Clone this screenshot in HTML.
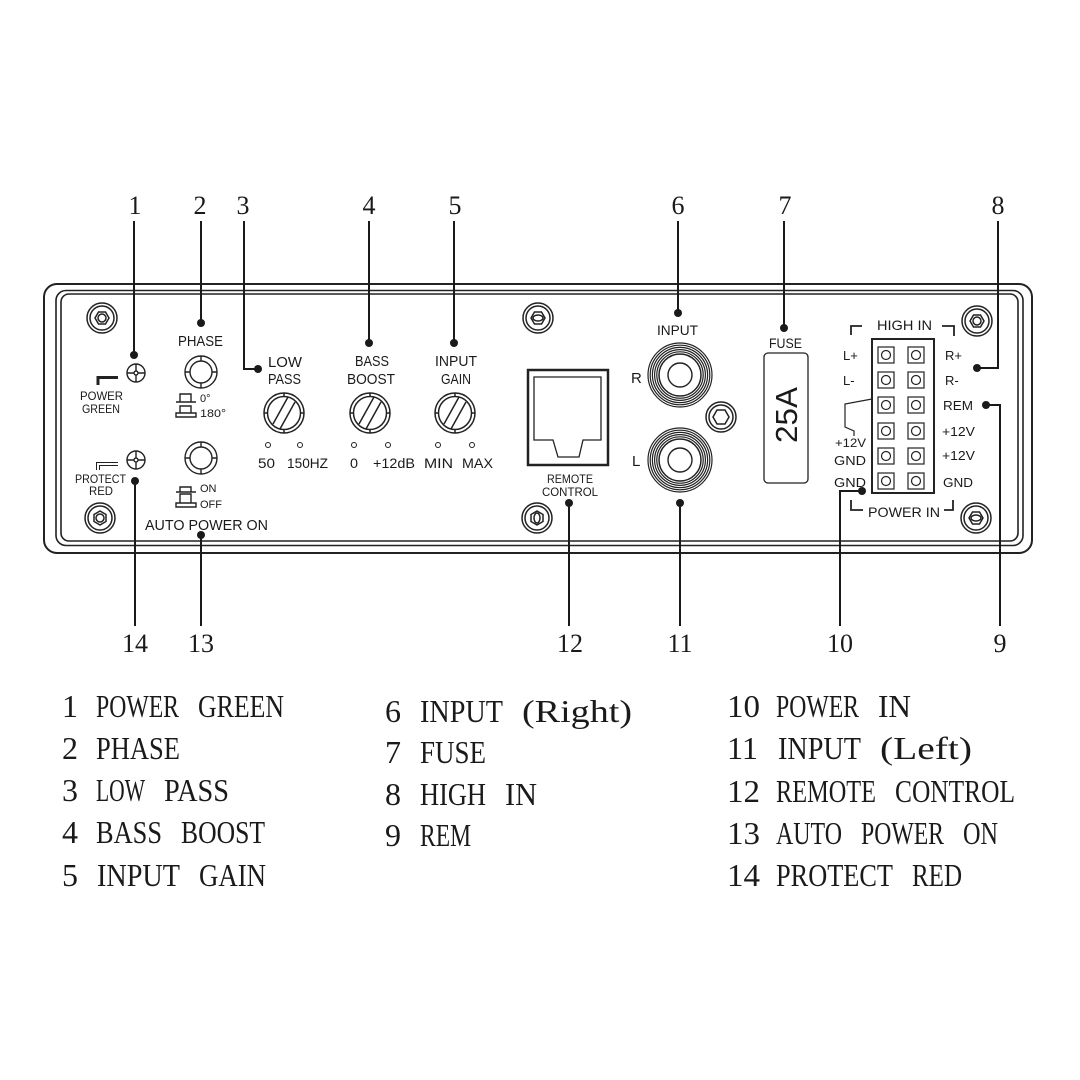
<!DOCTYPE html>
<html><head><meta charset="utf-8"><style>
html,body{margin:0;padding:0;background:#fff;}
svg{display:block;}
.s{font-family:"Liberation Sans",sans-serif;fill:#1a1a1a;}
.n{font-family:"Liberation Serif",serif;fill:#1a1a1a;font-size:26px;text-anchor:middle;}
.lg{font-family:"Liberation Serif",serif;fill:#1a1a1a;font-size:32px;}
</style></head><body>
<svg width="1080" height="1080" viewBox="0 0 1080 1080" xmlns="http://www.w3.org/2000/svg">
<rect width="1080" height="1080" fill="#fff"/>
<!-- frame -->
<rect x="44" y="284" width="988" height="269" rx="13" fill="none" stroke="#222" stroke-width="2"/>
<rect x="56" y="290.5" width="967" height="255" rx="10" fill="none" stroke="#222" stroke-width="1.6"/>
<rect x="61" y="294" width="957" height="247" rx="8" fill="none" stroke="#222" stroke-width="1.6"/>

<!-- screws -->
<g fill="none" stroke="#222" stroke-width="1.5">
 <g transform="translate(102,318)"><circle r="15"/><circle r="12"/><polygon points="7,0 3.5,6 -3.5,6 -7,0 -3.5,-6 3.5,-6"/><circle r="4"/></g>
 <g transform="translate(100,518)"><circle r="15"/><circle r="12"/><polygon points="0,7 6,3.5 6,-3.5 0,-7 -6,-3.5 -6,3.5"/><circle r="4"/></g>
 <g transform="translate(538,318)"><circle r="15"/><circle r="12"/><polygon points="7,0 3.5,6 -3.5,6 -7,0 -3.5,-6 3.5,-6"/><ellipse rx="5" ry="3"/></g>
 <g transform="translate(537,518)"><circle r="15"/><circle r="12"/><polygon points="0,7 6,3.5 6,-3.5 0,-7 -6,-3.5 -6,3.5"/><ellipse rx="3" ry="5"/></g>
 <g transform="translate(977,321)"><circle r="15"/><circle r="12"/><polygon points="7,0 3.5,6 -3.5,6 -7,0 -3.5,-6 3.5,-6"/><circle r="4"/></g>
 <g transform="translate(976,518)"><circle r="15"/><circle r="12"/><polygon points="7,0 3.5,6 -3.5,6 -7,0 -3.5,-6 3.5,-6"/><ellipse rx="5" ry="3"/></g>
 <g transform="translate(721,417)"><circle r="15"/><circle r="12"/><polygon points="8,0 4,7 -4,7 -8,0 -4,-7 4,-7"/></g>
</g>

<!-- power green / protect red -->
<g fill="none" stroke="#222" stroke-width="1.4">
 <circle cx="136" cy="373" r="9"/><circle cx="136" cy="373" r="2"/>
 <path d="M127,373h7M138,373h7M136,364v7M136,375v7"/>
 <circle cx="136" cy="460" r="9"/><circle cx="136" cy="460" r="2"/>
 <path d="M127,460h7M138,460h7M136,451v7M136,462v7"/>
 <path d="M96.5,470V462.5H118M99.5,470V465.5H118" stroke-width="1"/>
</g>
<path d="M98,385V377.5H118" fill="none" stroke="#222" stroke-width="3"/>
<text class="s" x="80" y="400" font-size="12" textLength="43" lengthAdjust="spacingAndGlyphs">POWER</text>
<text class="s" x="82" y="413" font-size="12" textLength="38" lengthAdjust="spacingAndGlyphs">GREEN</text>
<text class="s" x="75" y="483" font-size="12" textLength="51" lengthAdjust="spacingAndGlyphs">PROTECT</text>
<text class="s" x="89" y="495" font-size="12" textLength="24" lengthAdjust="spacingAndGlyphs">RED</text>

<!-- phase & auto power knobs -->
<g fill="none" stroke="#222" stroke-width="1.4">
 <g transform="translate(201,372)"><circle r="16"/><circle r="11"/><path d="M0,-16v5M0,16v-5M-16,0h5M16,0h-5"/></g>
 <g transform="translate(201,458)"><circle r="16"/><circle r="11"/><path d="M0,-16v5M0,16v-5M-16,0h5M16,0h-5"/></g>
 <!-- switch icons -->
 <path d="M176,402H196M180,402V394H191V402"/>
 <path d="M176,417H196V413H176ZM180,413V406H191V413"/>
 <path d="M176,492H196M180,492V487H191V492"/>
 <path d="M176,507H196V503H176ZM180,503V494H191V503"/>
</g>
<text class="s" x="178" y="346" font-size="15" textLength="45" lengthAdjust="spacingAndGlyphs">PHASE</text>
<text class="s" x="200" y="402" font-size="11">0°</text>
<text class="s" x="200" y="417" font-size="11" textLength="26" lengthAdjust="spacingAndGlyphs">180°</text>
<text class="s" x="200" y="492" font-size="11">ON</text>
<text class="s" x="200" y="508" font-size="11">OFF</text>
<text class="s" x="145" y="530" font-size="15" textLength="123" lengthAdjust="spacingAndGlyphs">AUTO POWER ON</text>

<!-- rotary knobs -->
<g fill="none" stroke="#222" stroke-width="1.5">
 <g transform="translate(284,413)"><circle r="20"/><circle r="16.5"/><path d="M0,-20v3.5M0,20v-3.5M-20,0h3.5M20,0h-3.5"/><path d="M4,-16L-11,11M11,-11L-4,16"/></g>
 <g transform="translate(370,413)"><circle r="20"/><circle r="16.5"/><path d="M0,-20v3.5M0,20v-3.5M-20,0h3.5M20,0h-3.5"/><path d="M4,-16L-11,11M11,-11L-4,16"/></g>
 <g transform="translate(455,413)"><circle r="20"/><circle r="16.5"/><path d="M0,-20v3.5M0,20v-3.5M-20,0h3.5M20,0h-3.5"/><path d="M4,-16L-11,11M11,-11L-4,16"/></g>
 <circle cx="268" cy="445" r="2.5" stroke-width="1"/><circle cx="300" cy="445" r="2.5" stroke-width="1"/>
 <circle cx="354" cy="445" r="2.5" stroke-width="1"/><circle cx="388" cy="445" r="2.5" stroke-width="1"/>
 <circle cx="438" cy="445" r="2.5" stroke-width="1"/><circle cx="472" cy="445" r="2.5" stroke-width="1"/>
</g>
<text class="s" x="268" y="367" font-size="15" textLength="34" lengthAdjust="spacingAndGlyphs">LOW</text>
<text class="s" x="268" y="384" font-size="15" textLength="33" lengthAdjust="spacingAndGlyphs">PASS</text>
<text class="s" x="355" y="366" font-size="15" textLength="34" lengthAdjust="spacingAndGlyphs">BASS</text>
<text class="s" x="347" y="384" font-size="15" textLength="48" lengthAdjust="spacingAndGlyphs">BOOST</text>
<text class="s" x="435" y="366" font-size="15" textLength="42" lengthAdjust="spacingAndGlyphs">INPUT</text>
<text class="s" x="441" y="384" font-size="15" textLength="30" lengthAdjust="spacingAndGlyphs">GAIN</text>
<text class="s" x="258" y="468" font-size="14" textLength="17" lengthAdjust="spacingAndGlyphs">50</text>
<text class="s" x="287" y="468" font-size="14" textLength="41" lengthAdjust="spacingAndGlyphs">150HZ</text>
<text class="s" x="350" y="468" font-size="14" textLength="8" lengthAdjust="spacingAndGlyphs">0</text>
<text class="s" x="373" y="468" font-size="14" textLength="42" lengthAdjust="spacingAndGlyphs">+12dB</text>
<text class="s" x="424" y="468" font-size="14" textLength="29" lengthAdjust="spacingAndGlyphs">MIN</text>
<text class="s" x="462" y="468" font-size="14" textLength="31" lengthAdjust="spacingAndGlyphs">MAX</text>

<!-- remote control -->
<rect x="528" y="370" width="80" height="95" fill="none" stroke="#222" stroke-width="2.5"/>
<path d="M534,377H601V440H583L579,457H558L553,440H534Z" fill="none" stroke="#222" stroke-width="1.3"/>
<text class="s" x="547" y="483" font-size="11.5" textLength="46" lengthAdjust="spacingAndGlyphs">REMOTE</text>
<text class="s" x="542" y="496" font-size="11.5" textLength="56" lengthAdjust="spacingAndGlyphs">CONTROL</text>

<!-- RCA -->
<g fill="none" stroke="#222" stroke-width="1.2">
 <g transform="translate(680,375)"><circle r="32"/><circle r="29.8"/><circle r="27.6"/><circle r="25.4"/><circle r="23.2"/><circle r="21" stroke-width="1.5"/><circle r="12" stroke-width="1.4"/></g>
 <g transform="translate(680,460)"><circle r="32"/><circle r="29.8"/><circle r="27.6"/><circle r="25.4"/><circle r="23.2"/><circle r="21" stroke-width="1.5"/><circle r="12" stroke-width="1.4"/></g>
</g>
<text class="s" x="657" y="335" font-size="14" textLength="41" lengthAdjust="spacingAndGlyphs">INPUT</text>
<text class="s" x="631" y="383" font-size="15">R</text>
<text class="s" x="632" y="466" font-size="15">L</text>

<!-- fuse -->
<rect x="764" y="353" width="44" height="130" rx="4" fill="none" stroke="#222" stroke-width="1.3"/>
<text class="s" x="769" y="348" font-size="14" textLength="33" lengthAdjust="spacingAndGlyphs">FUSE</text>
<text class="s" transform="translate(797,415) rotate(-90)" font-size="31" text-anchor="middle" textLength="56" lengthAdjust="spacingAndGlyphs">25A</text>

<!-- connector -->
<rect x="872" y="339" width="62" height="154" fill="none" stroke="#222" stroke-width="2"/>
<g fill="none" stroke="#222" stroke-width="1.2">
 <g id="pr"><rect x="878" y="347" width="16" height="16"/><circle cx="886" cy="355" r="4.5"/><rect x="908" y="347" width="16" height="16"/><circle cx="916" cy="355" r="4.5"/></g>
 <use href="#pr" y="25"/><use href="#pr" y="50"/><use href="#pr" y="76"/><use href="#pr" y="101"/><use href="#pr" y="126"/>
 <path d="M872,399L845,404V427L854,431V436"/>
 <path d="M851,335V326H862M942,326H954V336" stroke-width="1.8"/>
 <path d="M851,500V510H863M944,510H953V500" stroke-width="1.8"/>
</g>
<text class="s" x="877" y="330" font-size="14" textLength="55" lengthAdjust="spacingAndGlyphs">HIGH IN</text>
<text class="s" x="868" y="517" font-size="14" textLength="72" lengthAdjust="spacingAndGlyphs">POWER IN</text>
<text class="s" x="843" y="360" font-size="13">L+</text>
<text class="s" x="843" y="385" font-size="13">L-</text>
<text class="s" x="945" y="360" font-size="13">R+</text>
<text class="s" x="945" y="385" font-size="13">R-</text>
<text class="s" x="943" y="410" font-size="13" textLength="30" lengthAdjust="spacingAndGlyphs">REM</text>
<text class="s" x="942" y="436" font-size="13" textLength="33" lengthAdjust="spacingAndGlyphs">+12V</text>
<text class="s" x="942" y="460" font-size="13" textLength="33" lengthAdjust="spacingAndGlyphs">+12V</text>
<text class="s" x="943" y="487" font-size="13" textLength="30" lengthAdjust="spacingAndGlyphs">GND</text>
<text class="s" x="835" y="447" font-size="12" textLength="31" lengthAdjust="spacingAndGlyphs">+12V</text>
<text class="s" x="834" y="465" font-size="13" textLength="32" lengthAdjust="spacingAndGlyphs">GND</text>
<text class="s" x="834" y="487" font-size="13" textLength="32" lengthAdjust="spacingAndGlyphs">GND</text>

<!-- leader lines -->
<g fill="none" stroke="#1a1a1a" stroke-width="2">
 <path d="M134,221V355"/><path d="M201,221V323"/><path d="M244,221V369H258"/>
 <path d="M369,221V343"/><path d="M454,221V343"/><path d="M678,221V313"/>
 <path d="M784,221V328"/><path d="M998,221V368H977"/>
 <path d="M986,405H1000V626"/><path d="M862,491H840V626"/><path d="M680,503V626"/>
 <path d="M569,503V626"/><path d="M201,535V626"/><path d="M135,481V626"/>
</g>
<g fill="#1a1a1a">
 <circle cx="134" cy="355" r="4"/><circle cx="201" cy="323" r="4"/><circle cx="258" cy="369" r="4"/>
 <circle cx="369" cy="343" r="4"/><circle cx="454" cy="343" r="4"/><circle cx="678" cy="313" r="4"/>
 <circle cx="784" cy="328" r="4"/><circle cx="977" cy="368" r="4"/><circle cx="986" cy="405" r="4"/>
 <circle cx="862" cy="491" r="4"/><circle cx="680" cy="503" r="4"/><circle cx="569" cy="503" r="4"/>
 <circle cx="201" cy="535" r="4"/><circle cx="135" cy="481" r="4"/>
</g>

<!-- numbers -->
<text class="n" x="135" y="214">1</text><text class="n" x="200" y="214">2</text><text class="n" x="243" y="214">3</text>
<text class="n" x="369" y="214">4</text><text class="n" x="455" y="214">5</text><text class="n" x="678" y="214">6</text>
<text class="n" x="785" y="214">7</text><text class="n" x="998" y="214">8</text>
<text class="n" x="135" y="652">14</text><text class="n" x="201" y="652">13</text><text class="n" x="570" y="652">12</text>
<text class="n" x="680" y="652">11</text><text class="n" x="840" y="652">10</text><text class="n" x="1000" y="652">9</text>

<!-- legend -->
<g class="lg">
 <text x="62" y="717">1</text><text x="96" y="717" textLength="83" lengthAdjust="spacingAndGlyphs">POWER</text><text x="198" y="717" textLength="86" lengthAdjust="spacingAndGlyphs">GREEN</text>
 <text x="62" y="759">2</text><text x="96" y="759" textLength="84" lengthAdjust="spacingAndGlyphs">PHASE</text>
 <text x="62" y="801">3</text><text x="96" y="801" textLength="49" lengthAdjust="spacingAndGlyphs">LOW</text><text x="164" y="801" textLength="65" lengthAdjust="spacingAndGlyphs">PASS</text>
 <text x="62" y="843">4</text><text x="96" y="843" textLength="66" lengthAdjust="spacingAndGlyphs">BASS</text><text x="181" y="843" textLength="84" lengthAdjust="spacingAndGlyphs">BOOST</text>
 <text x="62" y="886">5</text><text x="97" y="886" textLength="83" lengthAdjust="spacingAndGlyphs">INPUT</text><text x="199" y="886" textLength="67" lengthAdjust="spacingAndGlyphs">GAIN</text>

 <text x="385" y="722">6</text><text x="420" y="722" textLength="83" lengthAdjust="spacingAndGlyphs">INPUT</text><text x="522" y="722" textLength="110" lengthAdjust="spacingAndGlyphs">(Right)</text>
 <text x="385" y="763">7</text><text x="420" y="763" textLength="66" lengthAdjust="spacingAndGlyphs">FUSE</text>
 <text x="385" y="805">8</text><text x="420" y="805" textLength="66" lengthAdjust="spacingAndGlyphs">HIGH</text><text x="505" y="805" textLength="32" lengthAdjust="spacingAndGlyphs">IN</text>
 <text x="385" y="846">9</text><text x="420" y="846" textLength="51" lengthAdjust="spacingAndGlyphs">REM</text>

 <text x="727" y="717" textLength="33" lengthAdjust="spacingAndGlyphs">10</text><text x="776" y="717" textLength="83" lengthAdjust="spacingAndGlyphs">POWER</text><text x="878" y="717" textLength="33" lengthAdjust="spacingAndGlyphs">IN</text>
 <text x="727" y="759" textLength="31" lengthAdjust="spacingAndGlyphs">11</text><text x="778" y="759" textLength="83" lengthAdjust="spacingAndGlyphs">INPUT</text><text x="880" y="759" textLength="92" lengthAdjust="spacingAndGlyphs">(Left)</text>
 <text x="727" y="802" textLength="33" lengthAdjust="spacingAndGlyphs">12</text><text x="776" y="802" textLength="100" lengthAdjust="spacingAndGlyphs">REMOTE</text><text x="895" y="802" textLength="120" lengthAdjust="spacingAndGlyphs">CONTROL</text>
 <text x="727" y="844" textLength="33" lengthAdjust="spacingAndGlyphs">13</text><text x="776" y="844" textLength="66" lengthAdjust="spacingAndGlyphs">AUTO</text><text x="861" y="844" textLength="83" lengthAdjust="spacingAndGlyphs">POWER</text><text x="963" y="844" textLength="35" lengthAdjust="spacingAndGlyphs">ON</text>
 <text x="727" y="886" textLength="33" lengthAdjust="spacingAndGlyphs">14</text><text x="776" y="886" textLength="117" lengthAdjust="spacingAndGlyphs">PROTECT</text><text x="912" y="886" textLength="50" lengthAdjust="spacingAndGlyphs">RED</text>
</g>
</svg>
</body></html>
